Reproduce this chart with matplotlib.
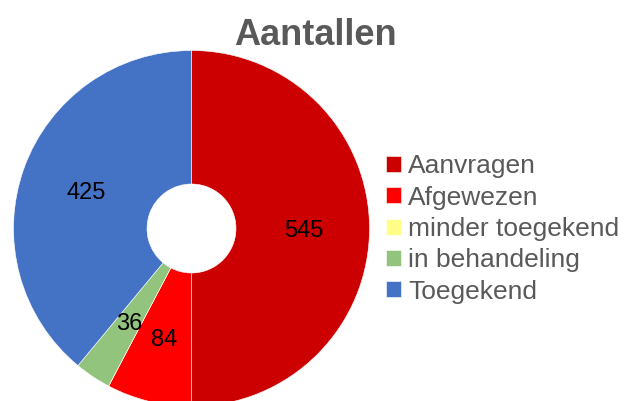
import numpy as np
import matplotlib
matplotlib.use("Agg")
import matplotlib.pyplot as plt

# data
categories = ["Aanvragen", "Afgewezen", "minder toegekend", "in behandeling", "Toegekend"]
values = [545, 84, 0, 36, 425]
colors = ["#CC0000", "#FF0000", "#FFFF88", "#93C47D", "#4472C4"]

plt.rcParams['font.family'] = ['Liberation Sans', 'DejaVu Sans']

fig = plt.figure(figsize=(6.33, 4.01), dpi=100)
W, H = 633, 401
# pie centre ~ (191, 228) px, radius ~178 px
cx, cy, r = 191.5, 228.5, 178
ax = fig.add_axes([(cx - r) / W, 1 - (cy + r) / H, 2 * r / W, 2 * r / H])

wedges, texts, autotexts = ax.pie(
    values, colors=colors, startangle=90, counterclock=False,
    radius=1, wedgeprops=dict(width=0.75, edgecolor="white", linewidth=0.4),
    autopct=lambda p: "%d" % round(p * sum(values) / 100) if p > 0 else "",
    pctdistance=0.63, textprops=dict(fontsize=17, color="black"))
for t in autotexts:
    t.set_va("center_baseline")
ax.set_xlim(-1, 1)
ax.set_ylim(-1, 1)
ax.set_aspect("equal")
ax.axis("off")

fig.text(315 / W, 1 - 45 / H, "Aantallen", ha="center", va="baseline",
         fontsize=26, fontweight="bold", color="#595959")

fig.legend(wedges, categories, loc="center left",
           bbox_to_anchor=(386 / W, 1 - 229 / H), frameon=False,
           fontsize=19, labelcolor="#595959", borderpad=0, borderaxespad=0,
           handlelength=0.55, handleheight=0.55, handletextpad=0.3,
           labelspacing=0.28)

fig.savefig("out.png", dpi=100)
